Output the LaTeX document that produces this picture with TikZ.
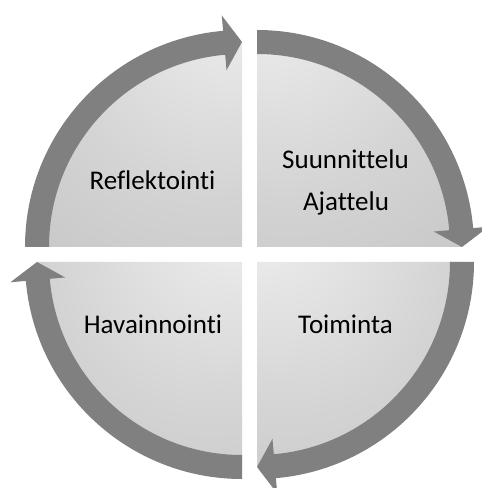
\documentclass[tikz,border=0pt]{standalone}
\usepackage{fontspec}
\setmainfont{Carlito}[RawFeature=-liga]
\definecolor{qa}{gray}{0.94}
\definecolor{qb}{gray}{0.83}
\definecolor{qc}{gray}{0.71}
\definecolor{qd}{gray}{0.67}
\definecolor{bandgray}{gray}{0.50}
\pgfdeclareradialshading{quadL}{\pgfpoint{25bp}{38bp}}{color(0bp)=(qa); color(40bp)=(qb); color(100bp)=(qc); color(150bp)=(qd)}
\pgfdeclareradialshading{quadR}{\pgfpoint{-25bp}{38bp}}{color(0bp)=(qa); color(40bp)=(qb); color(100bp)=(qc); color(150bp)=(qd)}
\begin{document}
\begin{tikzpicture}[x=1pt,y=1pt,
  band/.style={fill=bandgray},
  lbl/.style={font=\fontsize{27}{33}\selectfont, anchor=base, text=black, inner sep=0pt}]
\useasboundingbox (0,0) rectangle (482,488);
% top-left quadrant
\begin{scope}[shift={(242,241)}]
  \shade[shading=quadL] (0,0) -- (180:205) arc[start angle=180,end angle=90,radius=205] -- cycle;
  \fill[band] (180:193) arc[start angle=180,end angle=95,radius=193] -- (95:177.5) -- (90:205) -- (95:232.5) -- (95:217) arc[start angle=95,end angle=180,radius=217] -- cycle;
\end{scope}
% top-right quadrant
\begin{scope}[shift={(257,241)}]
  \shade[shading=quadR] (0,0) -- (90:205) arc[start angle=90,end angle=0,radius=205] -- cycle;
  \fill[band] (90:193) arc[start angle=90,end angle=5,radius=193] -- (5:177.5) -- (0:205) -- (5:232.5) -- (5:217) arc[start angle=5,end angle=90,radius=217] -- cycle;
\end{scope}
% bottom-right quadrant
\begin{scope}[shift={(257,226)}]
  \shade[shading=quadR] (0,0) -- (0:205) arc[start angle=0,end angle=-90,radius=205] -- cycle;
  \fill[band] (0:193) arc[start angle=0,end angle=-85,radius=193] -- (-85:177.5) -- (-90:205) -- (-85:232.5) -- (-85:217) arc[start angle=-85,end angle=0,radius=217] -- cycle;
\end{scope}
% bottom-left quadrant
\begin{scope}[shift={(242,226)}]
  \shade[shading=quadL] (0,0) -- (-90:205) arc[start angle=-90,end angle=-180,radius=205] -- cycle;
  \fill[band] (-90:193) arc[start angle=-90,end angle=-175,radius=193] -- (-175:177.5) -- (-180:205) -- (-175:232.5) -- (-175:217) arc[start angle=-175,end angle=-90,radius=217] -- cycle;
\end{scope}
% labels
\node[lbl] (refl) at (152.5,298) {Reflektointi};
\node[lbl] (suun) at (345.5,319) {Suunnittelu};
\node[lbl] (ajat) at (346,277) {Ajattelu};
\node[lbl] (hava) at (153,154) {Havainnointi};
\node[lbl] (toim) at (345.5,154) {Toiminta};
\end{tikzpicture}
\end{document}
